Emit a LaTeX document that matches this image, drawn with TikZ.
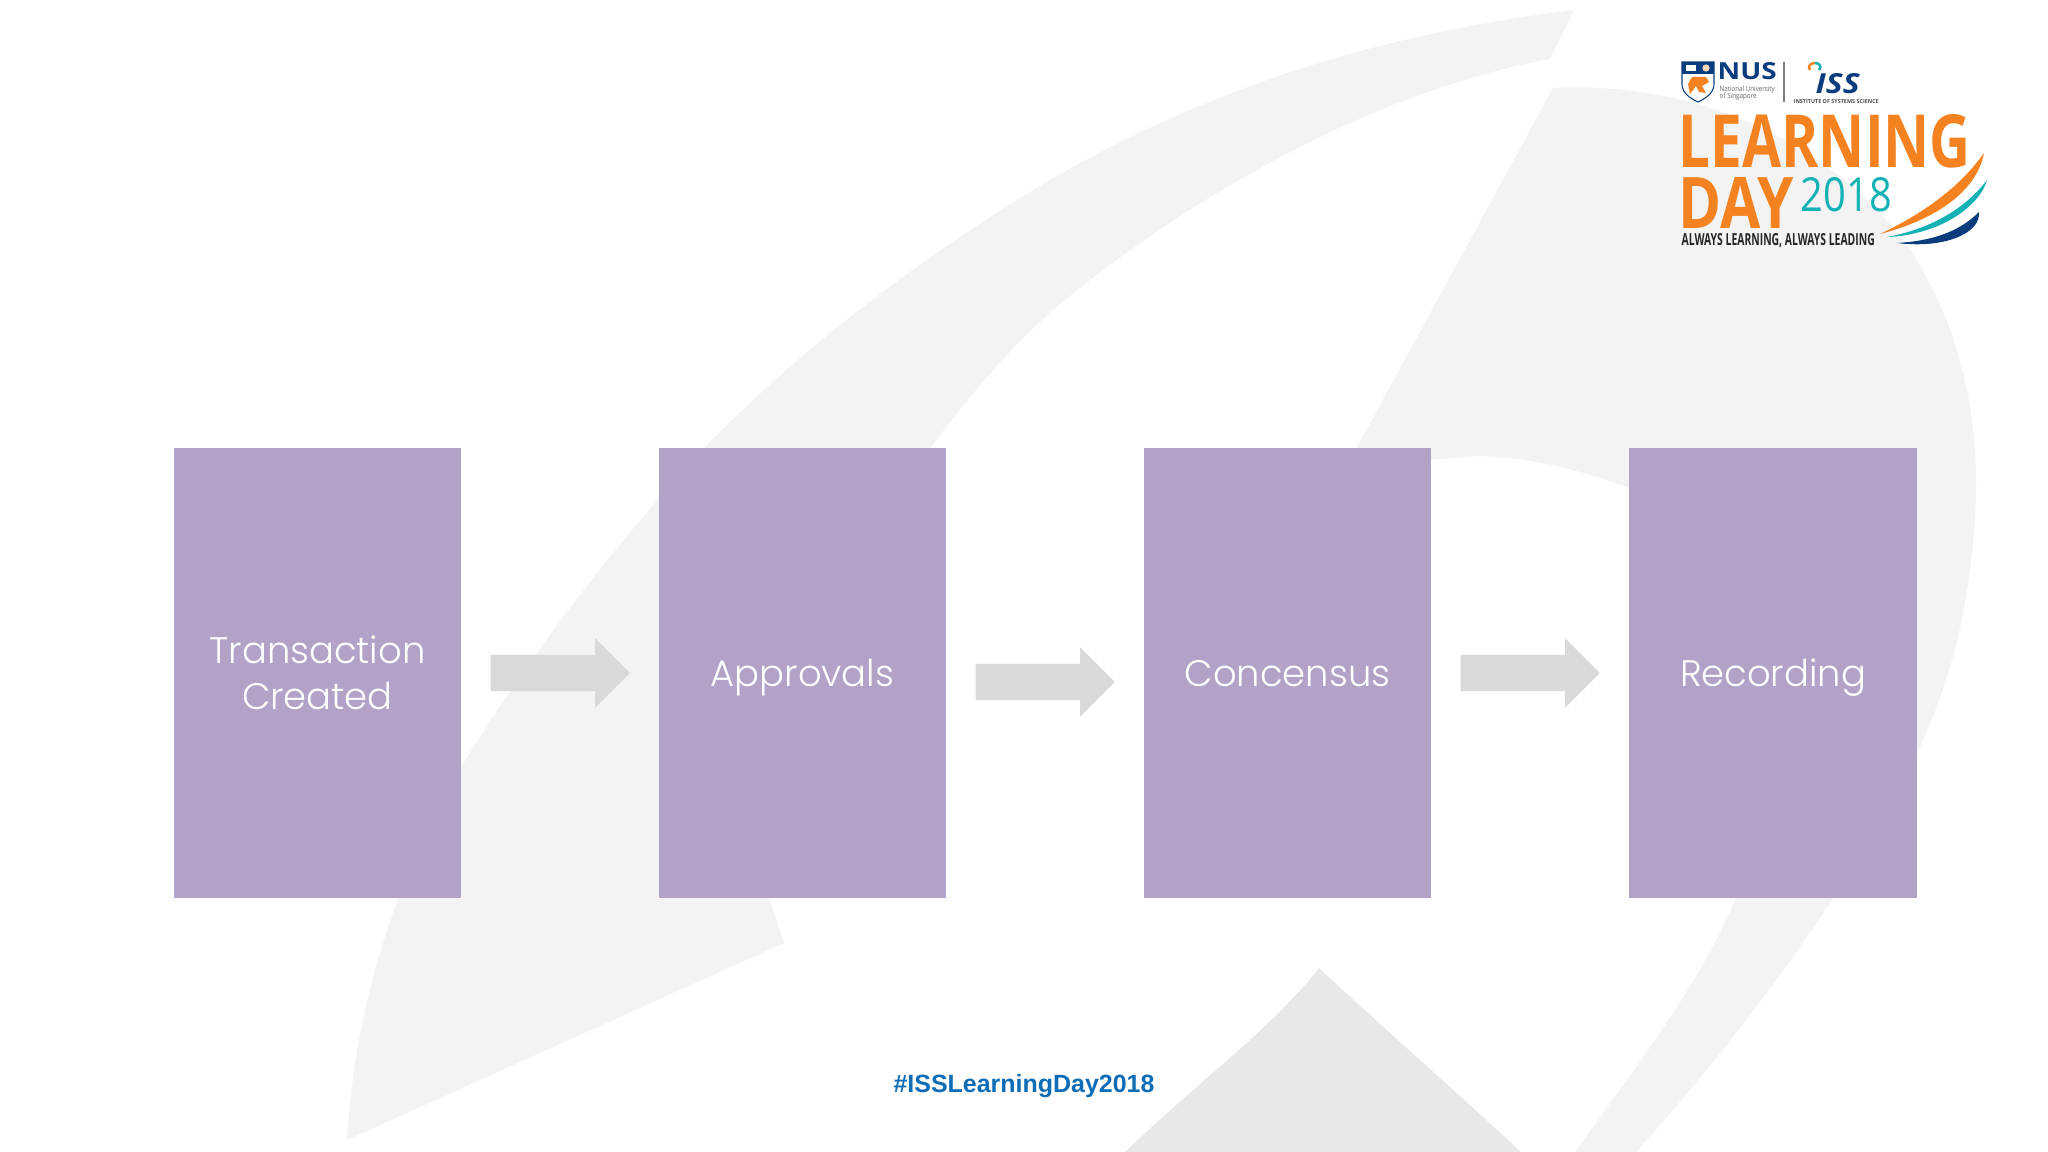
\documentclass[tikz,border=0pt]{standalone}
\usepackage{fontspec}
\setmainfont{Open Sans}
\newfontfamily\labelfont[UprightFont=* Light]{Poppins}
\newfontfamily\tagfont{Liberation Sans}
\usetikzlibrary{shapes.arrows}
\definecolor{boxpurple}{HTML}{B3A2C7}
\definecolor{arrowgrey}{HTML}{D9D9D9}
\definecolor{bandgrey}{HTML}{F3F3F4}
\definecolor{peakgrey}{HTML}{E8E8EA}
\definecolor{tagblue}{HTML}{0F6DB7}
\definecolor{logoorange}{HTML}{F58220}
\definecolor{logoteal}{HTML}{14B1B5}
\definecolor{logonavy}{HTML}{0B3C7D}
\newcommand{\fitword}[3]{\resizebox{#1cm}{#2cm}{#3}}
\tikzset{
  stepbox/.style={fill=boxpurple, text=white, minimum width=2.87cm, minimum height=4.5cm,
    inner sep=0pt, align=center, font=\labelfont\fontsize{10.5}{13}\selectfont},
  stepline/.style={stepbox, text height=0.35cm, text depth=0.08cm},
  flowarrow/.style={single arrow, fill=arrowgrey, inner sep=0pt, minimum height=1.39cm,
    single arrow head extend=0.165cm, single arrow tip angle=90, anchor=tail},
  logotext/.style={anchor=north west, inner sep=0pt}
}
\begin{document}
\begin{tikzpicture}[x=0.01cm,y=-0.01cm]
    \useasboundingbox (0,0) rectangle (2048,1152);

    % Background bands
    \fill[bandgrey] (347,1140) .. controls (355,1000) and (400,870) .. (461,767)
        .. controls (530,655) and (610,550) .. (705,447)
        .. controls (800,350) and (900,275) .. (1001,210)
        .. controls (1180,95) and (1370,35) .. (1574,10)
        -- (1550,59)
        .. controls (1380,90) and (1200,190) .. (1065,300)
        .. controls (1015,341) and (970,395) .. (931,447)
        .. controls (860,550) and (790,740) .. (769,898)
        -- (784,943) -- cycle;
    \fill[bandgrey] (1553,88) .. controls (1720,80) and (1850,160) .. (1915,257)
        .. controls (1960,330) and (1976,410) .. (1976,483)
        .. controls (1976,560) and (1960,640) .. (1946,679)
        .. controls (1925,750) and (1880,830) .. (1833,898)
        .. controls (1790,965) and (1715,1065) .. (1636,1152)
        -- (1575,1152)
        .. controls (1630,1075) and (1700,985) .. (1736,898)
        .. controls (1790,760) and (1760,560) .. (1629,488)
        .. controls (1570,465) and (1510,456) .. (1476,456)
        -- (1430,460) -- (1350,460) -- cycle;
    \fill[peakgrey] (1125,1152) .. controls (1200,1080) and (1270,1030) .. (1319,968)
        .. controls (1380,1025) and (1460,1095) .. (1521,1152) -- cycle;

    % Steps
    \node[stepbox] (created) at (317.5,673) {Transaction\\Created};
    \node[stepline] (approvals) at (802.5,673) {Approvals};
    \node[stepline] (concensus) at (1287.5,673) {Concensus};
    \node[stepline] (recording) at (1773,673) {Recording};

    % Arrows between steps
    \foreach \name/\x/\y in {arrowa/490/673, arrowb/975/682, arrowc/1460/673} {
        \node[flowarrow] (\name) at (\x,\y) {\rule{0pt}{0.35cm}};
    }

    % Hashtag
    \node[inner sep=0pt, text=tagblue, font=\tagfont\bfseries\fontsize{7.1}{9}\selectfont] (hashtag) at (1024,1086) {\#ISSLearningDay2018};

    % Logo: crest
    \draw[logonavy, fill=white, line width=0.3pt] (1682,62) -- (1714,62) -- (1714,84) .. controls (1714,94) and (1704,99) .. (1698,102) .. controls (1692,99) and (1682,94) .. (1682,84) -- cycle;
    \fill[logonavy] (1682,62) rectangle (1714,74);
    \fill[white] (1686,65) rectangle (1696,71);
    \fill[logoorange!30] (1706,68) circle (3.6);
    \fill[logoorange] (1688,84) -- (1692,77) -- (1706,77) -- (1709,82) -- (1702,86) -- (1706,93) -- (1699,92) -- (1696,86) -- (1690,94) -- cycle;

    % Logo: names
    \node[logotext, text=logonavy] (nus) at (1717,62) {\fitword{0.59}{0.17}{\bfseries NUS}};
    \node[logotext, text=black!60] (nusa) at (1719,85) {\fitword{0.55}{0.055}{National University}};
    \node[logotext, text=black!60] (nusb) at (1719,92) {\fitword{0.37}{0.055}{of Singapore}};
    \draw[black!50, line width=0.3pt] (1784,62) -- (1784,102);
    \node[logotext, text=logonavy] (iss) at (1815,73) {\fitword{0.44}{0.2}{\bfseries\itshape ISS}};
    \node[logotext, text=black!70] (issname) at (1793,99) {\fitword{0.85}{0.04}{\bfseries INSTITUTE OF SYSTEMS SCIENCE}};
    \draw[logoorange, line width=0.7pt] (1810,70) .. controls (1807,66) and (1811,63) .. (1815,63);
    \draw[logoteal, line width=0.7pt] (1815,63) .. controls (1820,63) and (1822,67) .. (1819,70);

    % Logo: title
    \node[logotext, text=logoorange] (learning) at (1678,114) {\fitword{2.92}{0.53}{\bfseries LEARNING}};
    \node[logotext, text=logoorange] (day) at (1678,177) {\fitword{1.15}{0.51}{\bfseries DAY}};
    \node[logotext, text=logoteal] (year) at (1800,177) {\fitword{0.91}{0.34}{2018}};
    \node[logotext, text=black!85] (motto) at (1681,233) {\fitword{1.93}{0.12}{\bfseries ALWAYS LEARNING, ALWAYS LEADING}};

    % Logo: swooshes
    \fill[logoorange] (1880,234) .. controls (1918,216) and (1958,190) .. (1984,153) .. controls (1977,190) and (1938,219) .. (1880,234) -- cycle;
    \fill[logoteal] (1887,237) .. controls (1930,229) and (1965,209) .. (1987,180) .. controls (1980,206) and (1940,235) .. (1887,237) -- cycle;
    \fill[logonavy] (1897,243) .. controls (1930,241) and (1958,233) .. (1979,212) .. controls (1981,233) and (1945,249) .. (1897,243) -- cycle;
\end{tikzpicture}
\end{document}
